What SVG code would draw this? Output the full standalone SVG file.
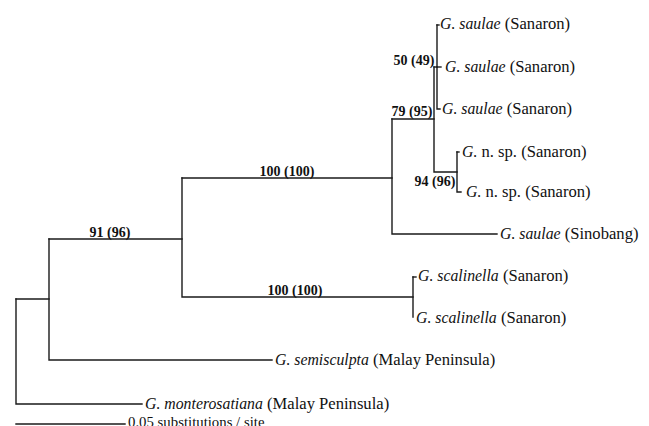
<svg xmlns="http://www.w3.org/2000/svg" width="649" height="426" viewBox="0 0 649 426">
<style>
.br{fill:none;stroke:#1a1a1a;stroke-width:1.4;stroke-linecap:square}
.tx{font-family:"Liberation Serif","Times New Roman",serif;font-size:16.6px;fill:#111}
.it{font-style:italic;font-size:15.8px}
.sc{font-family:"Liberation Serif","Times New Roman",serif;font-size:14.8px;fill:#111}
.bs{font-family:"Liberation Serif","Times New Roman",serif;font-size:14px;font-weight:bold;fill:#111;text-anchor:middle}
</style>
<rect width="649" height="426" fill="#fff"/>
<g id="connectors">
<path class="br" d="M16,299V404H142"/>
<path class="br" d="M16,299H49"/>
<path class="br" d="M49,239V360H272"/>
<path class="br" d="M49,239H182"/>
<path class="br" d="M182,178V297H413"/>
<path class="br" d="M182,178H392"/>
<path class="br" d="M392,119V234H497"/>
<path class="br" d="M392,119H434"/>
<path class="br" d="M434,67V172H457"/>
<path class="br" d="M434,67H437"/>
<path class="br" d="M437,25V109H440"/>
<path class="br" d="M437,67H441"/>
<path class="br" d="M437,25H439"/>
<path class="br" d="M457,152V192H461"/>
<path class="br" d="M457,152H459"/>
<path class="br" d="M413,277V317"/>
<path class="br" d="M413,277H416"/>
<path class="br" d="M16,424H125"/>
</g>
<g id="n1"><text class="tx" x="440" y="29"><tspan class="it">G. saulae</tspan> (Sanaron)</text></g>
<g id="n2"><text class="tx" x="445" y="72"><tspan class="it">G. saulae</tspan> (Sanaron)</text></g>
<g id="n3"><text class="tx" x="442" y="114"><tspan class="it">G. saulae</tspan> (Sanaron)</text></g>
<g id="n4"><text class="tx" x="462" y="157"><tspan class="it">G.</tspan> n. sp. (Sanaron)</text></g>
<g id="n5"><text class="tx" x="466" y="197"><tspan class="it">G.</tspan> n. sp. (Sanaron)</text></g>
<g id="n6"><text class="tx" x="500" y="239"><tspan class="it">G. saulae</tspan> (Sinobang)</text></g>
<g id="n7"><text class="tx" x="418" y="281"><tspan class="it">G. scalinella</tspan> (Sanaron)</text></g>
<g id="n8"><text class="tx" x="416" y="323"><tspan class="it">G. scalinella</tspan> (Sanaron)</text></g>
<g id="n9"><text class="tx" x="275" y="365"><tspan class="it">G. semisculpta</tspan> (Malay Peninsula)</text></g>
<g id="n10"><text class="tx" x="145" y="409"><tspan class="it">G. monterosatiana</tspan> (Malay Peninsula)</text></g>
<g id="scale"><text class="sc" x="128" y="427">0.05 substitutions / site</text></g>
<g id="support">
<text class="bs" x="414" y="65">50 (49)</text>
<text class="bs" x="412" y="116">79 (95)</text>
<text class="bs" x="435" y="186">94 (96)</text>
<text class="bs" x="287" y="176">100 (100)</text>
<text class="bs" x="295" y="295">100 (100)</text>
<text class="bs" x="110" y="237">91 (96)</text>
</g>
</svg>
